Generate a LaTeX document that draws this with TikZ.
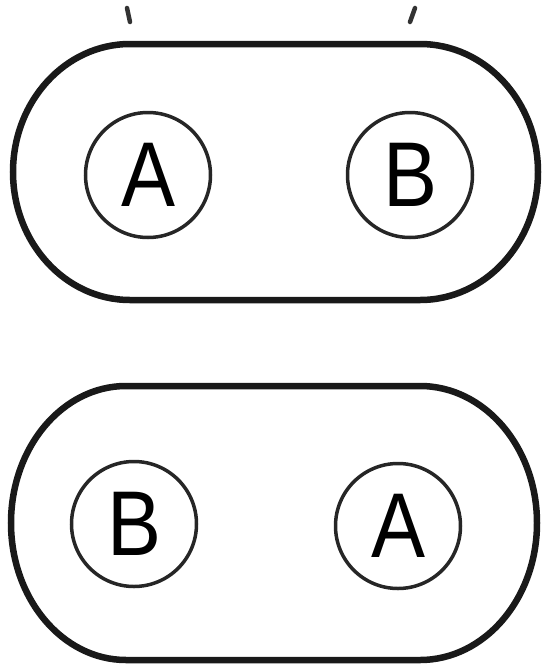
\documentclass[tikz,border=0pt]{standalone}
\usepackage{fontspec}
\setmainfont{Liberation Sans}
\begin{document}
\begin{tikzpicture}[x=1pt,y=1pt,
  capsule/.style={line width=6.5pt,draw=black!90},
  disc/.style={circle,draw=black!85,line width=3.5pt,minimum size=125pt,inner sep=0pt,
    font=\fontsize{92}{92}\selectfont},
  tick/.style={line width=4.5pt,draw=black!80,line cap=round}]
\useasboundingbox (0,0) rectangle (548,-665);
% top partial marks
\draw[tick] (127,-8) -- (130,-22);
\draw[tick] (415,-8) -- (410,-22);
% top capsule
\draw[capsule] (130,-44) -- (420,-44)
  arc[start angle=90,end angle=-90,x radius=118,y radius=128]
  -- (130,-300)
  arc[start angle=270,end angle=90,x radius=117,y radius=128] -- cycle;
\node[disc] (a1) at (148,-175) {\scalebox{0.88}[1]{A}};
\node[disc] (b1) at (410,-175) {\scalebox{0.88}[1]{B}};
% bottom capsule
\draw[capsule] (126,-386) -- (420,-386)
  arc[start angle=90,end angle=-90,x radius=117,y radius=137]
  -- (126,-660)
  arc[start angle=270,end angle=90,x radius=115,y radius=137] -- cycle;
\node[disc] (b2) at (134,-524) {\scalebox{0.88}[1]{B}};
\node[disc] (a2) at (398,-526) {\scalebox{0.88}[1]{A}};
\end{tikzpicture}
\end{document}
